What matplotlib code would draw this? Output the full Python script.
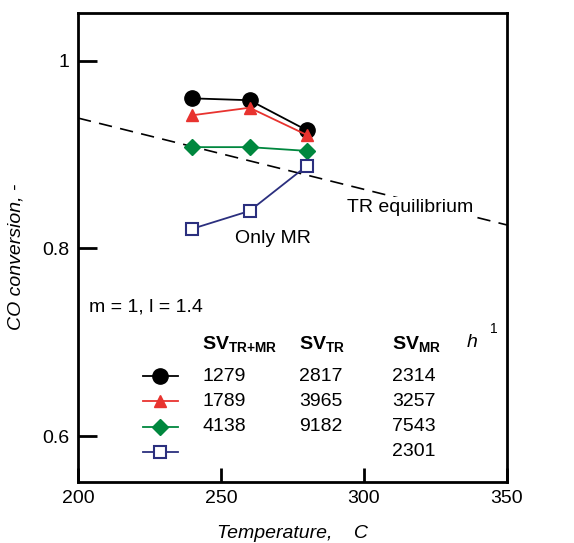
import numpy as np
import matplotlib.pyplot as plt

plt.rcParams['font.family'] = ['Liberation Sans', 'DejaVu Sans']
plt.rcParams['mathtext.fontset'] = 'custom'
plt.rcParams['mathtext.rm'] = 'Liberation Sans'
plt.rcParams['mathtext.bf'] = 'Liberation Sans:bold'

temps = [240, 260, 280]
conv_1279 = [0.960, 0.958, 0.926]
conv_1789 = [0.942, 0.950, 0.921]
conv_4138 = [0.908, 0.908, 0.904]
conv_mr = [0.821, 0.840, 0.888]

eq_temps = [200, 350]
eq_conv = [0.939, 0.825]

sv_trmr = ['1279', '1789', '4138', '']
sv_tr = ['2817', '3965', '9182', '']
sv_mr = ['2314', '3257', '7543', '2301']

styles = [
    dict(color='black', marker='o', ms=11, mfc='black'),
    dict(color='#e8332f', marker='^', ms=9, mfc='#e8332f'),
    dict(color='#00873e', marker='D', ms=8, mfc='#00873e'),
    dict(color='#2b2f7e', marker='s', ms=8, mfc='white', mew=1.5),
]

fig = plt.figure(figsize=(5.74, 5.43), dpi=100)
ax = fig.add_axes([78/574, 1 - 482/543, 429/574, 469/543])

ax.plot(eq_temps, eq_conv, color='black', lw=1.2, dashes=(8, 5))
for y, st in zip([conv_1279, conv_1789, conv_4138, conv_mr], styles):
    ax.plot(temps, y, lw=1.3, **st)

ax.set_xlim(200, 350)
ax.set_ylim(0.551, 1.051)
ax.set_xticks([200, 250, 300, 350])
ax.set_yticks([0.6, 0.8, 1.0])
ax.set_yticklabels(['0.6', '0.8', '1'])
ax.tick_params(direction='in', length=10, width=2, labelsize=14, pad=6)
ax.tick_params(axis='y', length=14)
for s in ax.spines.values():
    s.set_linewidth(2)

ax.set_xlabel('Temperature,    C', fontsize=14, style='italic', labelpad=13)
ax.set_ylabel('CO conversion, -', fontsize=14, style='italic')
ax.yaxis.set_label_coords(-0.125, 0.48)

ax.text(294, 0.844, 'TR equilibrium', fontsize=14, va='center', zorder=5,
        bbox=dict(facecolor='white', edgecolor='none', pad=1))
ax.text(255, 0.811, 'Only MR', fontsize=14, va='center')
ax.text(204, 0.738, 'm = 1, l = 1.4', fontsize=14, va='center')

# table-like legend
hy = 0.698
ax.text(243.4, hy, r'$\mathbf{SV_{TR{+}MR}}$', fontsize=14, va='center')
ax.text(277.3, hy, r'$\mathbf{SV_{TR}}$', fontsize=14, va='center')
ax.text(309.8, hy, r'$\mathbf{SV_{MR}}$', fontsize=14, va='center')
ax.text(336, 0.700, 'h', fontsize=14, style='italic', va='center')
ax.text(344, 0.714, '1', fontsize=10, va='center')

rows_y = [0.664, 0.637, 0.610, 0.583]
for ry, st, a, b, c in zip(rows_y, styles, sv_trmr, sv_tr, sv_mr):
    ax.plot([222.7, 228.7, 235], [ry, ry, ry], lw=1.3, markevery=[1], **st)
    ax.text(243.4, ry, a, fontsize=14, va='center')
    ax.text(277.3, ry, b, fontsize=14, va='center')
    ax.text(309.8, ry, c, fontsize=14, va='center')

fig.savefig('out.png', dpi=100)
